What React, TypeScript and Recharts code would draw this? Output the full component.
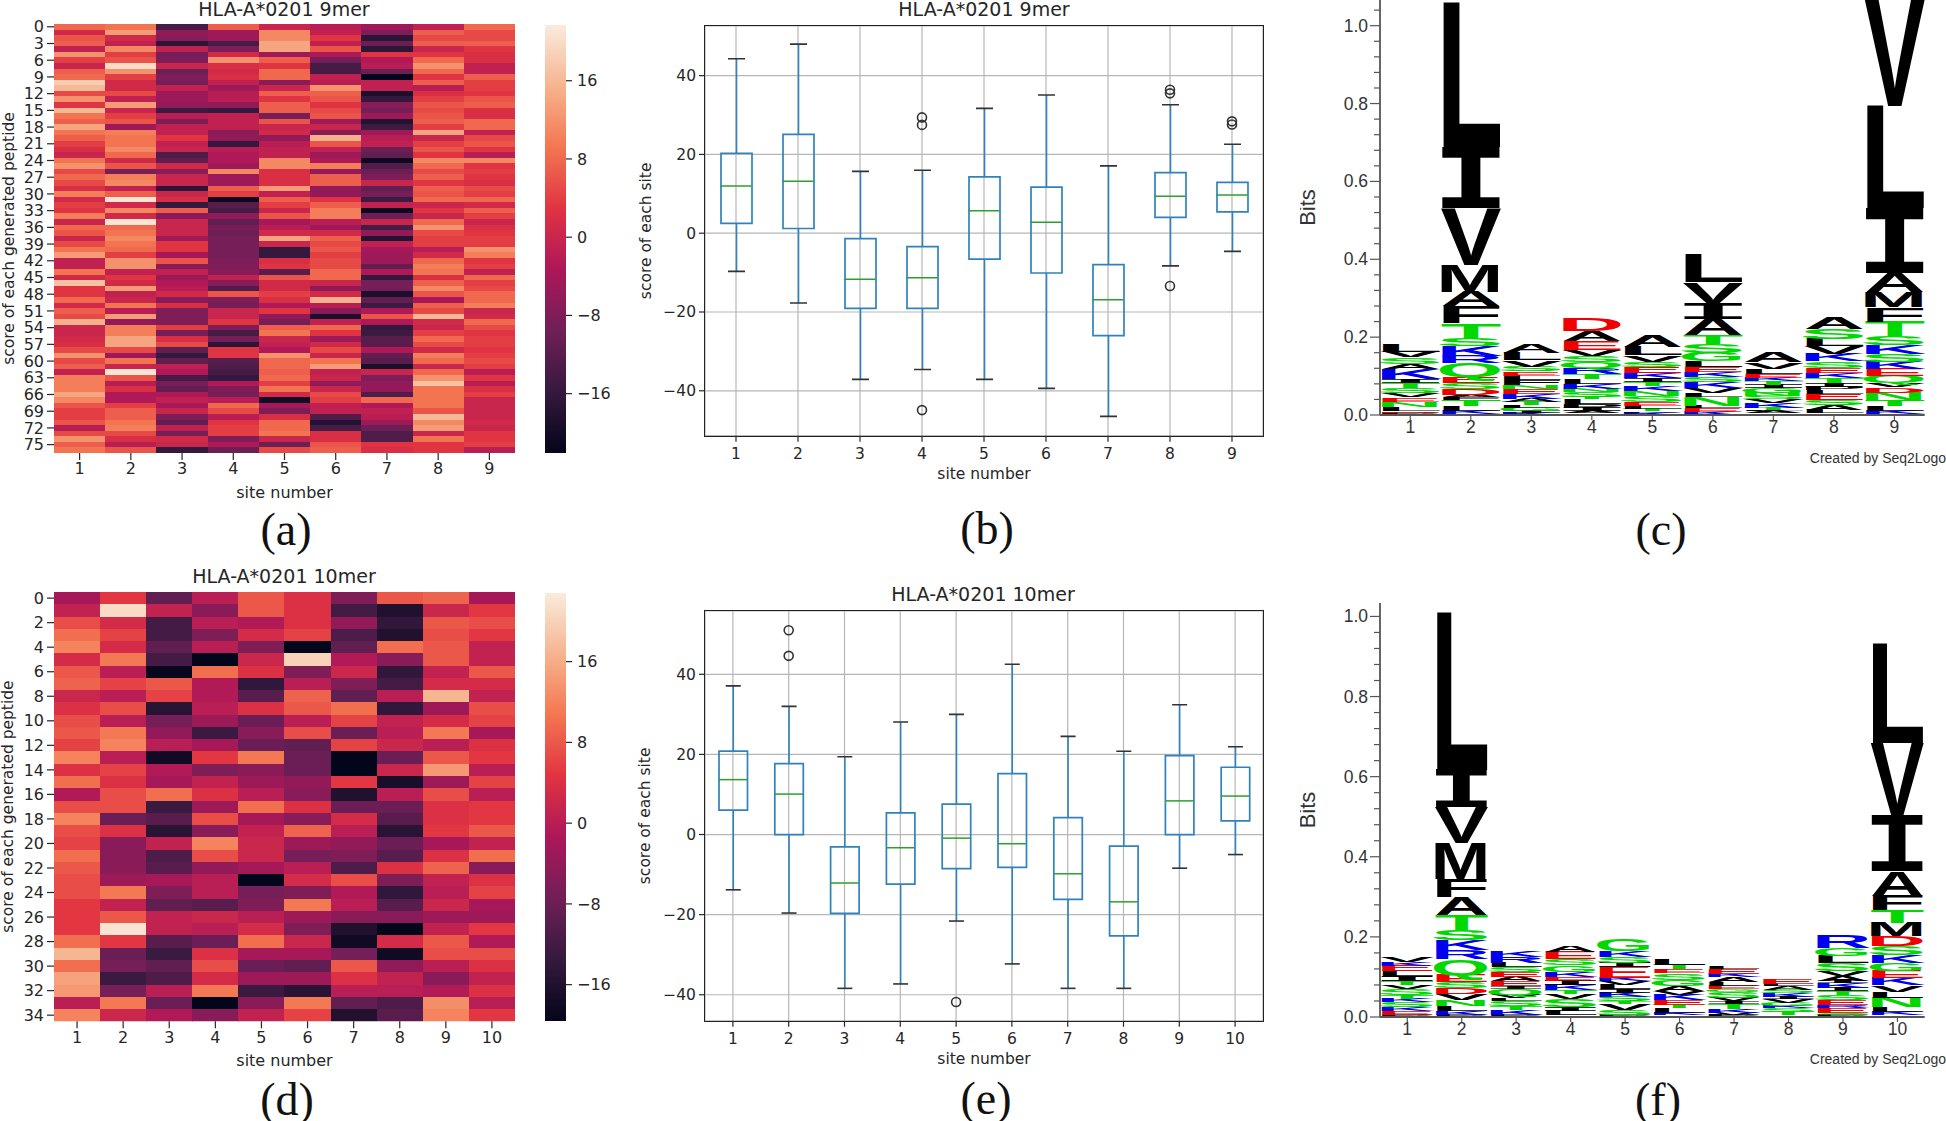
import { Bar, BarChart, CartesianGrid, ComposedChart, Line, XAxis, YAxis } from 'recharts';

// ---- heatmap (a): one list per site, 77 rows each ----
const heatACols: number[][] = [
  [8,1,6,7,-1,12,4,0,7,8,18,16,5,12,3,16,9,7,14,9,7,4,2,0,9,12,5,8,5,2,10,1,4,3,10,0,8,6,0,5,9,13,-1,-1,9,1,17,3,3,8,1,7,5,15,0,0,1,2,5,12,5,7,-1,10,10,10,14,11,6,4,4,6,-2,5,12,7,9],
  [9,13,1,-1,11,4,6,20,12,4,1,1,5,-1,13,0,4,6,-5,10,9,9,11,8,1,6,-9,10,11,-1,7,21,1,11,1,21,8,9,11,9,8,4,12,12,-1,3,1,13,-1,0,9,-2,13,-6,10,10,14,14,5,-5,9,0,21,6,-2,2,-3,-3,4,7,7,9,10,5,2,-2,6],
  [-14,-6,-7,-17,-1,-9,-8,0,-10,-8,-9,-1,-5,-5,-6,-15,-2,-8,-1,-1,3,-1,0,-13,-11,1,-7,0,0,-17,0,2,-16,7,-7,0,0,0,-5,3,3,-4,6,-7,-1,-5,-3,-2,1,-7,2,-8,-8,-8,4,-9,2,5,-11,-16,-11,-1,-3,-14,-9,-11,-3,-1,-4,0,-8,-11,-1,-9,1,0,-16],
  [7,-5,-5,-14,-8,1,12,2,1,2,-1,-5,-2,-2,-6,-16,-1,-1,-1,-7,-6,-16,-2,-3,-3,-5,11,-5,-5,7,4,-21,-12,-14,-6,-11,-9,-10,-9,-9,-9,-9,-8,-8,-7,-1,-7,-13,6,-8,-9,0,0,3,-8,-14,-9,-17,3,3,-12,-13,-14,-16,-3,-8,-9,-2,8,5,-2,3,4,4,-8,-3,-10],
  [0,11,11,14,14,-5,7,3,8,8,-7,0,7,3,7,7,-9,6,0,1,-6,-2,-1,-1,11,11,2,2,2,13,-1,7,4,0,6,-4,-2,1,14,0,-16,-16,2,3,-12,6,1,1,4,2,-3,3,-6,-9,7,9,0,-1,-3,12,8,8,7,8,4,9,1,-20,-4,-8,2,8,8,9,0,-10,5],
  [-2,-1,3,-1,6,-3,-9,-14,-14,-1,-2,12,7,6,3,5,6,-5,0,-7,15,6,-1,-5,-3,10,-6,7,7,-6,-6,3,7,10,10,-2,-5,1,7,5,6,4,5,5,8,8,0,-6,1,15,-2,-7,-19,-1,8,3,-5,1,5,0,9,13,-1,0,-6,0,5,4,-1,-1,-13,-18,-14,2,2,6,7],
  [-5,-8,-17,-10,-17,3,-3,-2,-10,-22,-1,-1,-19,-16,-7,-9,-5,-18,-15,-5,-2,-1,-10,-11,-21,-13,-10,-8,0,-11,-9,-15,-1,-21,-10,0,-14,-6,-18,-1,-4,-5,-5,-11,-3,-16,-9,-9,-19,-11,-15,-3,6,-3,-16,-15,-12,-12,-3,-11,-12,-19,0,-8,-6,-6,-13,8,-3,-1,-2,-5,-10,-13,-13,3,2],
  [-1,7,5,7,0,3,8,12,8,3,7,-2,2,4,6,5,6,7,4,14,0,4,6,3,11,8,5,7,3,7,6,8,0,3,0,8,12,5,4,4,-2,1,8,10,9,2,7,11,6,-4,7,5,16,1,0,4,8,5,1,10,8,0,8,12,17,9,9,9,9,6,16,11,13,0,9,3,3],
  [8,5,5,7,3,2,2,-1,-1,7,4,4,3,6,7,2,2,8,8,-1,5,6,3,-2,11,3,4,3,2,5,4,8,1,7,4,0,2,3,4,4,12,10,3,4,-1,8,4,5,8,8,10,0,1,8,5,3,4,4,3,4,5,4,-2,3,-2,2,4,0,0,0,0,1,0,3,3,4,-2],
];

// ---- heatmap (d): one list per row, 10 sites each ----
const heatDRows: number[][] = [
  [-2,5,-9,0,8,4,-6,8,9,-2],
  [1,21,1,-5,8,4,-12,-16,2,5],
  [7,3,-12,0,-1,4,-4,-14,8,7],
  [10,6,-12,-6,3,6,-11,-16,7,5],
  [12,3,-9,0,-6,-21,-9,10,8,1],
  [3,11,-12,-21,2,20,-1,-5,8,1],
  [8,0,-19,10,4,-6,2,-14,1,8],
  [9,6,8,-1,-14,0,-6,-12,3,3],
  [2,0,6,-1,-10,9,-9,0,17,1],
  [4,7,-15,0,4,8,10,-14,-3,7],
  [7,0,-7,-3,-8,0,6,1,3,6],
  [8,11,-4,-13,-5,7,-8,0,11,-2],
  [6,12,0,-2,-8,-9,6,2,0,4],
  [12,0,-18,5,11,-8,-22,-8,8,5],
  [4,6,-1,-6,-5,-8,-22,2,14,0],
  [10,4,-2,1,-3,-4,5,-17,-3,6],
  [-1,7,10,4,0,-5,-16,0,7,0],
  [7,7,-13,-3,10,4,-8,-8,4,5],
  [12,-8,-10,7,-2,-5,3,-10,4,5],
  [7,4,-15,-5,1,9,0,-15,5,8],
  [6,-5,1,12,2,-3,-4,-8,-2,1],
  [10,-5,-11,7,2,-7,-6,-10,4,10],
  [8,-5,-10,-4,-2,0,-11,4,9,-5],
  [7,-3,-2,0,-21,3,7,-6,1,4],
  [7,11,-6,0,-7,-6,-1,-14,0,6],
  [5,1,-9,-10,-6,11,0,-10,2,-2],
  [5,8,1,2,0,-3,-5,-5,-3,-3],
  [5,22,1,0,3,-6,-16,-21,1,5],
  [10,5,-10,-8,10,2,-18,3,8,-1],
  [17,-8,-13,4,-2,-2,-7,-18,7,7],
  [10,-7,-9,7,-8,-9,8,-4,0,4],
  [15,-13,-11,3,-3,-3,4,1,-5,1],
  [14,-7,0,11,-13,-15,0,0,-1,4],
  [0,11,-8,-21,-5,11,-9,-11,13,0],
  [12,2,-1,-5,1,6,-16,-10,12,5],
];

const ROCKET = ['#03051a', '#35193e', '#701f57', '#ad1759', '#e13342', '#f37651', '#f6b48f', '#faebdd'];

// ---- boxplot (b) ----
const b_hi = [44.3, 48, 15.7, 16, 31.7, 35.1, 17.1, 32.6, 22.6];
const b_q3 = [20.3, 25.1, -1.4, -3.4, 14.3, 11.7, -8, 15.4, 12.9];
const b_med = [12, 13.2, -11.7, -11.3, 5.7, 2.8, -16.9, 9.4, 9.7];
const b_q1 = [2.5, 1.2, -19.1, -19.1, -6.6, -10.1, -26, 4, 5.4];
const b_lo = [-9.7, -17.7, -37.1, -34.6, -37.1, -39.4, -46.5, -8.3, -4.6];
const b_fliers: (number[])[] = [[], [], [], [29.4, 27.5, -44.9], [], [], [], [36.4, 35.5, -13.4], [28.4, 27.6]];

// ---- boxplot (e) ----
const e_hi = [37.1, 32, 19.4, 28.1, 30, 42.5, 24.5, 20.8, 32.4, 21.9];
const e_q3 = [20.8, 17.7, -3.1, 5.4, 7.6, 15.2, 4.2, -2.9, 19.7, 16.8];
const e_med = [13.7, 10.1, -12.1, -3.3, -0.9, -2.3, -9.8, -16.8, 8.4, 9.6];
const e_q1 = [6.1, 0, -19.7, -12.4, -8.5, -8.2, -16.2, -25.3, 0, 3.4];
const e_lo = [-13.8, -19.6, -38.4, -37.3, -21.6, -32.3, -38.4, -38.4, -8.4, -5];
const e_fliers: (number[])[] = [[], [51, 44.6], [], [], [-41.8], [], [], [], [], []];

// ---- sequence logos, letters bottom to top ----
const logoC_letters = [
  'PDLNEVSTIKASVL',
  'PKLTFADSEQRKSTFAMVIL',
  'KIGLTAKENFLESVLA',
  'PAIPLTSNKLTRQSVEAD',
  'KPTLESNKTIKESVLA',
  'KELNLVKSKELGSTAIVL',
  'PALTKVSNGITKELVA',
  'PLASELPITKESKVLSA',
  'PKLTNDVQEKSKSTFMAILV',
];
const logoC_bits = [
  [.006,.004,.01,.014,.011,.011,.013,.013,.01,.026,.013,.017,.015,.02],
  [.002,.009,.012,.016,.006,.006,.015,.015,.017,.035,.018,.025,.02,.04,.043,.038,.069,.145,.157,.37],
  [.005,.006,.008,.006,.008,.008,.014,.012,.01,.012,.012,.011,.012,.016,.018,.022],
  [.004,.006,.008,.01,.012,.006,.012,.008,.013,.013,.013,.015,.015,.017,.015,.023,.026,.032],
  [.005,.004,.006,.008,.01,.015,.014,.012,.011,.01,.013,.015,.014,.016,.022,.028],
  [.008,.01,.006,.023,.01,.012,.015,.014,.012,.013,.015,.021,.024,.023,.041,.041,.053,.071],
  [.004,.005,.004,.006,.012,.009,.008,.009,.012,.008,.01,.008,.011,.013,.016,.025],
  [.004,.01,.012,.012,.016,.01,.008,.01,.013,.013,.014,.016,.018,.02,.018,.026,.028],
  [.002,.009,.012,.016,.018,.014,.011,.018,.018,.018,.02,.024,.022,.038,.037,.038,.05,.167,.261,.274],
];

const logoF_letters = [
  'PEKSKTSVTILEKV',
  'PKLNVDSEQRKSTAFMVIL',
  'PKTSLVQIEAESLRK',
  'PLISVTKIEKGSEA',
  'PSVTSKILVKEISKG',
  'PKLTEKVAGSETL',
  'PVKTIVSGELAKEL',
  'PTSKGVIKSALE',
  'PSERESTIKIAVSLGR',
  'PKLNLVKEGKSDMTFAIVL',
];
const logoF_bits = [
  [.006,.01,.01,.012,.008,.01,.015,.01,.009,.012,.012,.014,.009,.012],
  [.006,.009,.012,.016,.014,.016,.014,.019,.039,.022,.025,.024,.039,.044,.045,.09,.09,.093,.392],
  [.006,.012,.01,.012,.007,.009,.015,.006,.012,.011,.013,.011,.012,.014,.016],
  [.004,.012,.01,.019,.012,.01,.012,.011,.01,.013,.016,.016,.018,.017],
  [.005,.012,.016,.006,.011,.011,.008,.011,.009,.009,.027,.011,.015,.014,.029],
  [.004,.006,.012,.008,.012,.014,.01,.011,.016,.016,.01,.012,.015],
  [.005,.006,.01,.012,.006,.008,.016,.006,.009,.009,.012,.008,.013,.006],
  [.004,.008,.01,.006,.008,.008,.006,.01,.008,.009,.006,.012],
  [.005,.006,.012,.007,.012,.012,.01,.008,.012,.006,.013,.013,.018,.018,.019,.03],
  [.004,.008,.012,.024,.015,.016,.018,.019,.018,.02,.023,.024,.034,.031,.037,.061,.138,.183,.248],
];

const DEJAVU = '"DejaVu Sans", sans-serif';
const ARIAL = '"Liberation Sans", sans-serif';
const TXT = '#262626';

const hexToRgb = (h: string) => [1, 3, 5].map((i) => parseInt(h.slice(i, i + 2), 16));
function rocket(v: number, min: number, max: number) {
  const f = Math.max(0, Math.min(1, (v - min) / (max - min))) * (ROCKET.length - 1);
  const i = Math.min(ROCKET.length - 2, Math.floor(f));
  const a = hexToRgb(ROCKET[i]);
  const b = hexToRgb(ROCKET[i + 1]);
  const c = a.map((x, k) => Math.round(x + (b[k] - x) * (f - i)));
  return `rgb(${c[0]},${c[1]},${c[2]})`;
}

const minusFmt = (v: number) => String(v).replace('-', '\u2212');

// room above the plot so the top tick label is not clipped by the svg
const HEAD = 12;

function Heatmap({ rows, nCols, step, left, top, plotW, plotH, vmin, vmax }: any) {
  const sites = Array.from({ length: nCols }, (_, c) => String(c + 1));
  const table = sites.map((site, c) => {
    const row: any = { site };
    rows.forEach((r: number[], i: number) => {
      row[`u${i}`] = 1;
      row[`v${i}`] = r[c];
    });
    return row;
  });
  const ticks = rows.map((_: any, i: number) => i + 0.5).filter((t: number) => Math.floor(t) % step === 0);
  return (
    <div style={{ position: 'absolute', left, top: top - HEAD }}>
      <BarChart width={55 + plotW} height={HEAD + plotH + 60} data={table} barCategoryGap={0} barGap={0} margin={{ top: HEAD, right: 1, left: 0, bottom: 0 }}>
        <XAxis
          dataKey="site" height={60} tickSize={7} tickMargin={3} axisLine={false}
          tickLine={{ stroke: TXT, strokeWidth: 1.2 }}
          tick={{ fill: TXT, fontSize: 16, fontFamily: DEJAVU }}
          label={{ value: 'site number', position: 'insideBottom', offset: 15, fill: TXT, fontSize: 16, fontFamily: DEJAVU }}
        />
        <YAxis
          type="number" reversed domain={[0, rows.length]} ticks={ticks} interval={0} width={54} tickSize={7} tickMargin={3}
          axisLine={false} allowDataOverflow
          tickFormatter={(t: number) => String(Math.floor(t))}
          tickLine={{ stroke: TXT, strokeWidth: 1.2 }}
          tick={{ fill: TXT, fontSize: 16, fontFamily: DEJAVU }}
          label={{ value: 'score of each generated peptide', angle: -90, position: 'insideLeft', offset: 8, style: { textAnchor: 'middle' }, fill: TXT, fontSize: 15.5, fontFamily: DEJAVU }}
        />
        {rows.map((_: any, i: number) => (
          <Bar
            key={i} dataKey={`u${i}`} stackId="cells" isAnimationActive={false}
            shape={(p: any) => (
              // the y axis runs downward here, so the bar height comes back negative;
              // the extra half pixel closes the seams between cells
              <rect
                x={p.x} y={Math.min(p.y, p.y + p.height)} width={p.width + 0.6} height={Math.abs(p.height) + 0.4}
                fill={rocket(p.payload[`v${i}`], vmin, vmax)} shapeRendering="crispEdges"
              />
            )}
          />
        ))}
      </BarChart>
    </div>
  );
}

function Colorbar({ id, left, top, height, vmin, vmax }: any) {
  return (
    <div style={{ position: 'absolute', left, top }}>
      <BarChart width={82} height={height} data={[{ range: [vmin, vmax] }]} barCategoryGap={0} margin={{ top: 0, right: 0, left: 0, bottom: 0 }}>
        <defs>
          <linearGradient id={id} x1="0" y1="1" x2="0" y2="0">
            {ROCKET.map((c, i) => <stop key={c} offset={i / (ROCKET.length - 1)} stopColor={c} />)}
          </linearGradient>
        </defs>
        <XAxis hide />
        <YAxis
          orientation="right" type="number" domain={[vmin, vmax]} ticks={[-16, -8, 0, 8, 16]} interval={0} width={61} allowDataOverflow
          axisLine={false} tickSize={6} tickMargin={5} tickFormatter={minusFmt}
          tickLine={{ stroke: TXT, strokeWidth: 1.2 }}
          tick={{ fill: TXT, fontSize: 16, fontFamily: DEJAVU }}
        />
        <Bar dataKey="range" fill={`url(#${id})`} isAnimationActive={false} />
      </BarChart>
    </div>
  );
}

const BLUE = '#2f82bd';
const GREEN = '#2ca02c';

function BoxPanel({ hi, q3, med, q1, lo, fliers, yDomain, left, top, plotW, plotH, barSize, capW }: any) {
  const table = hi.map((_: number, i: number) => ({
    site: String(i + 1),
    whiskerHi: [q3[i], hi[i]],
    whiskerLo: [lo[i], q1[i]],
    box: [q1[i], q3[i]],
    med: med[i],
    o1: fliers[i][0] ?? null,
    o2: fliers[i][1] ?? null,
    o3: fliers[i][2] ?? null,
  }));
  const whisker = (end: 'top' | 'bottom') => (p: any) => {
    const cx = p.x + p.width / 2;
    const capY = end === 'top' ? p.y : p.y + p.height;
    return (
      <g>
        <line x1={cx} x2={cx} y1={p.y} y2={p.y + p.height} stroke={BLUE} strokeWidth={1.6} />
        <line x1={cx - capW / 2} x2={cx + capW / 2} y1={capY} y2={capY} stroke="#333" strokeWidth={1.6} />
      </g>
    );
  };
  const flierDot = { r: 4.5, fill: 'none', stroke: '#333', strokeWidth: 1.6 };
  return (
    <div style={{ position: 'absolute', left, top }}>
      <ComposedChart width={75 + plotW} height={plotH + 55} data={table} barSize={barSize} barGap={-barSize} margin={{ top: 0, right: 0, left: 0, bottom: 0 }}>
        <CartesianGrid stroke="#b6b6b6" strokeWidth={1.2} />
        <XAxis
          dataKey="site" height={55} tickSize={6} tickMargin={6} axisLine={false}
          tickLine={{ stroke: TXT, strokeWidth: 1.2 }}
          tick={{ fill: TXT, fontSize: 15.5, fontFamily: DEJAVU }}
          label={{ value: 'site number', position: 'insideBottom', offset: 12, fill: TXT, fontSize: 15.5, fontFamily: DEJAVU }}
        />
        <YAxis
          type="number" domain={yDomain} ticks={[-40, -20, 0, 20, 40]} interval={0} width={75} tickSize={6} tickMargin={3}
          axisLine={false} allowDataOverflow tickFormatter={minusFmt}
          tickLine={{ stroke: TXT, strokeWidth: 1.2 }}
          tick={{ fill: TXT, fontSize: 15.5, fontFamily: DEJAVU }}
          label={{ value: 'score of each site', angle: -90, position: 'insideLeft', offset: 15, style: { textAnchor: 'middle' }, fill: TXT, fontSize: 15.5, fontFamily: DEJAVU }}
        />
        <Bar dataKey="whiskerHi" isAnimationActive={false} shape={whisker('top')} />
        <Bar dataKey="whiskerLo" isAnimationActive={false} shape={whisker('bottom')} />
        <Bar dataKey="box" fill="none" stroke={BLUE} strokeWidth={1.7} isAnimationActive={false} />
        <Line
          dataKey="med" stroke="none" isAnimationActive={false}
          dot={(p: any) => <line key={p.index} x1={p.cx - barSize / 2} x2={p.cx + barSize / 2} y1={p.cy} y2={p.cy} stroke={GREEN} strokeWidth={1.5} />}
        />
        <Line dataKey="o1" stroke="none" isAnimationActive={false} dot={flierDot} />
        <Line dataKey="o2" stroke="none" isAnimationActive={false} dot={flierDot} />
        <Line dataKey="o3" stroke="none" isAnimationActive={false} dot={flierDot} />
      </ComposedChart>
    </div>
  );
}

const letterColor = (l: string) => {
  if ('GSTYCNQ'.includes(l)) return '#00d800';
  if ('KRH'.includes(l)) return '#0000f0';
  if ('DE'.includes(l)) return '#f00000';
  return '#000';
};

function Letter({ x, y, width, height, letter }: any) {
  if (!letter || !height) return null;
  const serif = letter === 'I';
  const capH = serif ? 72.9 : 68.8;
  // stretch past the side bearings so glyphs fill their column like the logo does
  const widen = serif ? 1.3 : 'AVTY'.includes(letter) ? 1 : 1.1;
  const w = width * widen;
  const gx = x - (w - width) * (serif ? 0.5 : 0.7);
  return (
    <text
      transform={`translate(${gx},${y + height}) scale(${w / 100},${height / capH})`}
      fontSize={100} fontWeight={700} textLength={100} lengthAdjust="spacingAndGlyphs"
      fontFamily={serif ? '"DejaVu Sans Mono", monospace' : ARIAL}
      fill={letterColor(letter)}
    >
      {letter}
    </text>
  );
}

function LogoPanel({ letters, bits, yMax, maxTick, left, top, headroom, plotW, plotH }: any) {
  const nLayers = Math.max(...letters.map((s: string) => s.length));
  const table = letters.map((s: string, c: number) => {
    const row: any = { site: String(c + 1) };
    for (let k = 0; k < nLayers; k++) {
      row[`h${k}`] = bits[c][k] ?? 0;
      row[`l${k}`] = s[k];
    }
    return row;
  });
  const ticks: number[] = [];
  for (let n = 0; n <= maxTick; n += 4) ticks.push(n / 100);
  const yTick = (p: any) => {
    const major = Math.round(p.payload.value * 100) % 20 === 0;
    return (
      <g>
        <line x1={p.x + 8} x2={p.x + (major ? -2 : 2)} y1={p.y} y2={p.y} stroke="#555" strokeWidth={1.2} />
        {major && (
          <text x={p.x - 4} y={p.y} dy={6} textAnchor="end" fontSize={17.5} fontFamily={ARIAL} fill="#333">
            {p.payload.value.toFixed(1)}
          </text>
        )}
      </g>
    );
  };
  return (
    <div style={{ position: 'absolute', left, top: top - headroom }}>
      <BarChart width={80 + plotW} height={headroom + plotH + 40} data={table} barCategoryGap={0} barGap={0} margin={{ top: headroom, right: 0, left: 0, bottom: 0 }}>
        <XAxis
          dataKey="site" height={40} tickSize={5} tickMargin={1}
          axisLine={{ stroke: '#555', strokeWidth: 1.8 }}
          tickLine={{ stroke: '#555', strokeWidth: 1.2 }}
          tick={{ fill: '#333', fontSize: 17.5, fontFamily: ARIAL }}
        />
        <YAxis
          type="number" domain={[0, yMax]} ticks={ticks} interval={0} width={80} allowDataOverflow
          axisLine={{ stroke: '#555', strokeWidth: 1.8 }} tickLine={false} tick={yTick}
          label={{ value: 'Bits', angle: -90, position: 'insideLeft', offset: 7, style: { textAnchor: 'middle' }, fill: '#333', fontSize: 22, fontFamily: ARIAL }}
        />
        {Array.from({ length: nLayers }, (_, k) => (
          <Bar
            key={k} dataKey={`h${k}`} stackId="logo" isAnimationActive={false}
            shape={(p: any) => <Letter {...p} letter={p.payload[`l${k}`]} />}
          />
        ))}
      </BarChart>
    </div>
  );
}

function Title({ x, y, children }: any) {
  return (
    <div style={{ position: 'absolute', left: x - 150, width: 300, top: y - 12, height: 24, lineHeight: '24px', textAlign: 'center', fontFamily: DEJAVU, fontSize: 19, color: TXT, whiteSpace: 'nowrap' }}>
      {children}
    </div>
  );
}

function Caption({ x, y, children }: any) {
  return (
    <div style={{ position: 'absolute', left: x - 60, width: 120, top: y - 30, height: 60, lineHeight: '60px', textAlign: 'center', fontFamily: '"Liberation Serif", serif', fontSize: 46, color: '#111' }}>
      {children}
    </div>
  );
}

function Frame({ x, y, w, h }: any) {
  return <div style={{ position: 'absolute', left: x - 1, top: y - 1, width: w, height: h, border: '1.5px solid #222', pointerEvents: 'none' }} />;
}

function Credit({ y }: any) {
  return (
    <div style={{ position: 'absolute', right: 0, top: y - 9, lineHeight: '18px', fontFamily: ARIAL, fontSize: 14, color: '#333', whiteSpace: 'nowrap' }}>
      Created by Seq2Logo
    </div>
  );
}

const heatARows = heatACols[0].map((_, r) => heatACols.map((col) => col[r]));

export default function App() {
  return (
    <div style={{ position: 'absolute', left: 0, top: 0, width: 1946, height: 1121, background: '#fff', overflow: 'hidden' }}>
      <Heatmap rows={heatARows} nCols={9} step={3} left={0} top={24.3} plotW={461} plotH={429} vmin={-22.1} vmax={21.7} />
      <Title x={284} y={9}>HLA-A*0201 9mer</Title>
      <Colorbar id="rocketA" left={544.6} top={25} height={428.3} vmin={-22.1} vmax={21.7} />
      <Caption x={286} y={530}>(a)</Caption>

      <Heatmap rows={heatDRows} nCols={10} step={2} left={0} top={591.7} plotW={461} plotH={429.3} vmin={-19.6} vmax={22.8} />
      <Title x={284} y={576}>HLA-A*0201 10mer</Title>
      <Colorbar id="rocketD" left={544.6} top={593} height={428} vmin={-19.6} vmax={22.8} />
      <Caption x={287} y={1100}>(d)</Caption>

      <Title x={984} y={9}>HLA-A*0201 9mer</Title>
      <BoxPanel hi={b_hi} q3={b_q3} med={b_med} q1={b_q1} lo={b_lo} fliers={b_fliers} yDomain={[-51.4, 52.6]} left={629.6} top={26} plotW={558} plotH={409.7} barSize={31} capW={17} />
      <Frame x={704.6} y={26} w={558} h={409.7} />
      <Caption x={987} y={529}>(b)</Caption>

      <Title x={983} y={594}>HLA-A*0201 10mer</Title>
      <BoxPanel hi={e_hi} q3={e_q3} med={e_med} q1={e_q1} lo={e_lo} fliers={e_fliers} yDomain={[-46.5, 55.8]} left={629.6} top={611} plotW={558} plotH={409.8} barSize={28.5} capW={15} />
      <Frame x={704.6} y={611} w={558} h={409.8} />
      <Caption x={986} y={1099}>(e)</Caption>

      <LogoPanel letters={logoC_letters} bits={logoC_bits} yMax={1.066} maxTick={104} left={1300} top={0} headroom={0} plotW={544.7} plotH={415} />
      <Credit y={458} />
      <Caption x={1661} y={530}>(c)</Caption>

      <LogoPanel letters={logoF_letters} bits={logoF_bits} yMax={1.0335} maxTick={100} left={1300} top={602.7} headroom={12} plotW={544.7} plotH={414} />
      <Credit y={1059} />
      <Caption x={1658} y={1100}>(f)</Caption>
    </div>
  );
}
